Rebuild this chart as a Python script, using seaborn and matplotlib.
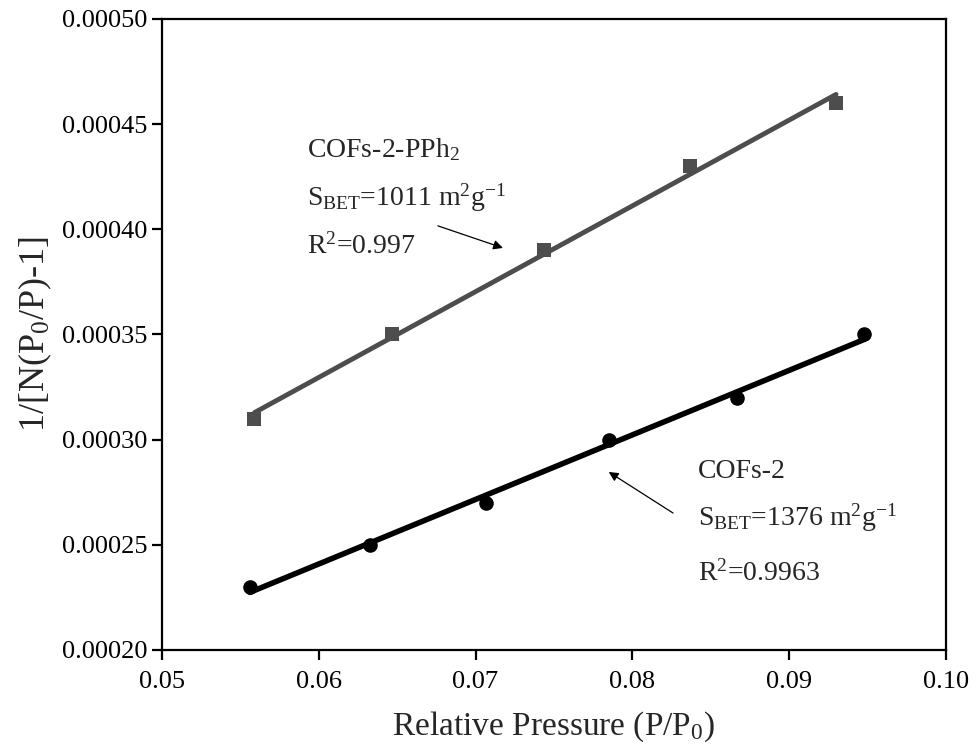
import numpy as np
import pandas as pd
import matplotlib
matplotlib.use("Agg")
import matplotlib.pyplot as plt
from matplotlib.ticker import FormatStrFormatter
import seaborn as sns

# Data
x_pph2 = [0.0559, 0.0647, 0.0744, 0.0837, 0.0930]
y_pph2 = [0.00031, 0.00035, 0.00039, 0.00043, 0.00046]
x_cof2 = [0.0556, 0.0633, 0.0707, 0.0785, 0.0867, 0.0948]
y_cof2 = [0.00023, 0.00025, 0.00027, 0.00030, 0.00032, 0.00035]

xticks = [0.05, 0.06, 0.07, 0.08, 0.09, 0.10]
yticks = [0.00020, 0.00025, 0.00030, 0.00035, 0.00040, 0.00045, 0.00050]

sns.set_theme(style="ticks")
plt.rcParams["font.family"] = ["Liberation Serif", "DejaVu Serif"]
plt.rcParams["mathtext.fontset"] = "custom"
plt.rcParams["mathtext.rm"] = "Liberation Serif"
plt.rcParams["mathtext.it"] = "Liberation Serif:italic"
plt.rcParams["mathtext.bf"] = "Liberation Serif:bold"

fig, ax = plt.subplots(figsize=(9.76, 7.54), dpi=100)
fig.subplots_adjust(left=0.166, right=0.969, top=0.975, bottom=0.138)

df1 = pd.DataFrame({"x": x_pph2, "y": y_pph2})
df2 = pd.DataFrame({"x": x_cof2, "y": y_cof2})

sns.regplot(data=df1, x="x", y="y", ax=ax, ci=None, marker="s", color="#4d4d4d",
            scatter_kws={"s": 95, "linewidths": 0, "alpha": 1},
            line_kws={"lw": 3.5})
sns.regplot(data=df2, x="x", y="y", ax=ax, ci=None, marker="o", color="black",
            scatter_kws={"s": 110, "linewidths": 0, "alpha": 1},
            line_kws={"lw": 4})

ax.set_xlim(0.05, 0.10)
ax.set_ylim(0.0002, 0.0005)
ax.set_xticks(xticks)
ax.set_yticks(yticks)
ax.xaxis.set_major_formatter(FormatStrFormatter("%.2f"))
ax.yaxis.set_major_formatter(FormatStrFormatter("%.5f"))

for sp in ax.spines.values():
    sp.set_visible(True)
    sp.set_linewidth(1.6)
    sp.set_color("black")
ax.tick_params(axis="both", direction="out", length=7, width=1.6, labelsize=19,
               colors="black", top=False, right=False)
ax.tick_params(axis="x", pad=8)

ax.set_xlabel(r"Relative Pressure (P/P$\mathregular{_0}$)", fontsize=24, labelpad=12)
ax.set_ylabel(r"1/[N(P$\mathregular{_0}$/P)-1]", fontsize=26, labelpad=6)

fs = 20
tx = 0.185
ax.text(tx, 0.792, r"COFs-2-PPh$\mathregular{_2}$", transform=ax.transAxes, fontsize=fs, va="center")
ax.text(tx, 0.716, r"S$\mathregular{_{BET}}$=1011 m$\mathregular{^2}$g$\mathregular{^{-1}}$", transform=ax.transAxes, fontsize=fs, va="center")
ax.text(tx, 0.639, r"R$\mathregular{^2}$=0.997", transform=ax.transAxes, fontsize=fs, va="center")

tx2 = 0.684
ax.text(tx2, 0.282, "COFs-2", transform=ax.transAxes, fontsize=fs, va="center")
ax.text(tx2, 0.209, r"S$\mathregular{_{BET}}$=1376 m$\mathregular{^2}$g$\mathregular{^{-1}}$", transform=ax.transAxes, fontsize=fs, va="center")
ax.text(tx2, 0.122, r"R$\mathregular{^2}$=0.9963", transform=ax.transAxes, fontsize=fs, va="center")

arrowprops = dict(arrowstyle="-|>", color="black", lw=0.9, mutation_scale=14, shrinkA=0, shrinkB=0)
ax.annotate("", xy=(0.435, 0.637), xytext=(0.352, 0.672), xycoords="axes fraction",
            textcoords="axes fraction", arrowprops=arrowprops)
ax.annotate("", xy=(0.570, 0.282), xytext=(0.652, 0.217), xycoords="axes fraction",
            textcoords="axes fraction", arrowprops=arrowprops)

fig.savefig("out.png", dpi=100, facecolor="white")
